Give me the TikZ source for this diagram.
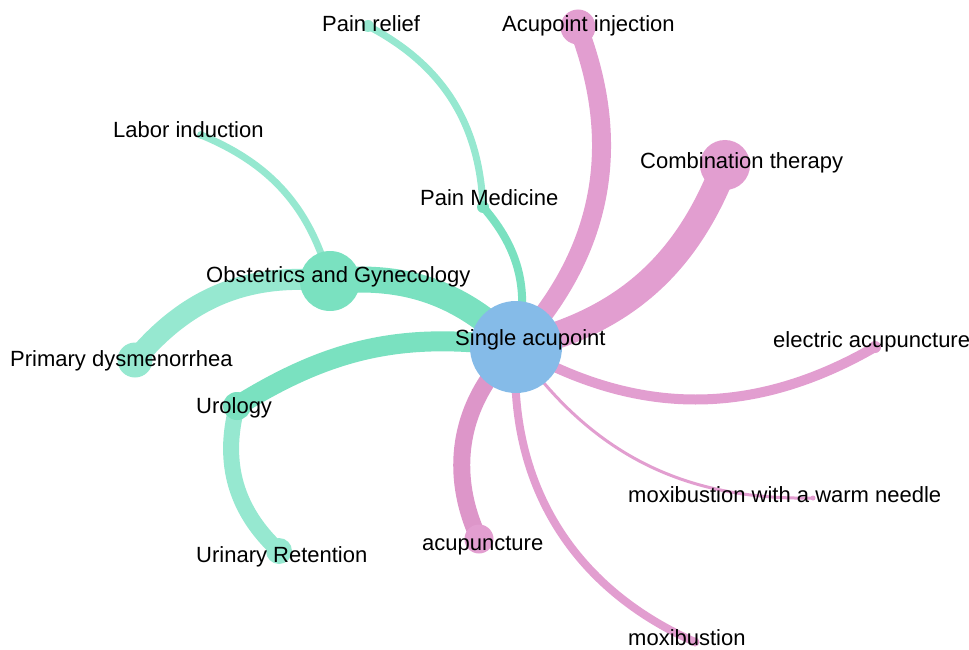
\documentclass[tikz,border=0pt]{standalone}
\usepackage{fontspec}
\setmainfont{Liberation Sans}
\usetikzlibrary{backgrounds}
\definecolor{hub}{HTML}{85BBE8}
\definecolor{tealA}{HTML}{7AE1C0}
\definecolor{tealB}{HTML}{96E8D0}
\definecolor{pinkA}{HTML}{E29ED0}
\definecolor{pinkB}{HTML}{DD96C9}

\begin{document}
\begin{tikzpicture}[x=1pt,y=-1pt,
  vertex/.style={circle,inner sep=0pt,minimum size=#1,draw=none},
  lbl/.style={anchor=base west,inner sep=0pt,font=\fontsize{22}{26}\selectfont,text=black},
  link/.style={draw=#1,line cap=butt}]
\useasboundingbox (0,0) rectangle (969,650);

% nodes
\node[vertex=92pt,fill=hub]   (sa)  at (516,347) {};
\node[vertex=60pt,fill=tealA] (obs) at (330,281) {};
\node[vertex=35pt,fill=tealB] (pd)  at (135,360) {};
\node[vertex=28pt,fill=tealA] (uro) at (237,406) {};
\node[vertex=26pt,fill=tealB] (ur)  at (279,551) {};
\node[vertex=8pt,fill=tealB]  (li)  at (201,135) {};
\node[vertex=12pt,fill=tealB] (pr)  at (368,26)  {};
\node[vertex=12pt,fill=tealA] (pm)  at (483,207) {};
\node[vertex=35pt,fill=pinkA] (ai)  at (578,27)  {};
\node[vertex=50pt,fill=pinkA] (ct)  at (725,165) {};
\node[vertex=12pt,fill=pinkA] (ea)  at (875,347) {};
\node[vertex=5pt,fill=pinkA]  (mw)  at (813,498) {};
\node[vertex=9pt,fill=pinkA]  (mx)  at (695,642) {};
\node[vertex=29pt,fill=pinkA] (ac)  at (479,539) {};

% links, drawn underneath the nodes
\begin{scope}[on background layer]
\draw[link=tealA,line width=26pt] (sa.center) to[bend right=25] (obs.center);
\draw[link=tealB,line width=21pt] (obs.center) to[bend right=28] (pd.center);
\draw[link=tealB,line width=7pt]  (obs.center) to[bend right=26] (li.center);
\draw[link=tealA,line width=20pt] (sa.center) to[bend right=20] (uro.center);
\draw[link=tealB,line width=16pt] (uro.center) to[bend right=31] (ur.center);
\draw[link=tealA,line width=8pt]  (sa.center) to[bend right=28] (pm.center);
\draw[link=tealB,line width=7pt]  (pm.center) to[bend right=30] (pr.center);
\draw[link=pinkA,line width=19pt] (sa.center) to[bend right=32] (ai.center);
\draw[link=pinkA,line width=27pt] (sa.center) to[bend right=28] (ct.center);
\draw[link=pinkA,line width=10pt] (sa.center) to[bend right=30] (ea.center);
\draw[link=pinkA,line width=3pt]  (sa.center) to[bend right=28] (mw.center);
\draw[link=pinkA,line width=8pt]  (sa.center) to[bend right=35] (mx.center);
\draw[link=pinkB,line width=17pt] (sa.center) to[bend right=36] (ac.center);
\end{scope}

% labels
\node[lbl] (sa-l)  at (455,345) {Single acupoint};
\node[lbl] (obs-l) at (206,282) {Obstetrics and Gynecology};
\node[lbl] (pd-l)  at (10,366)  {Primary dysmenorrhea};
\node[lbl] (uro-l) at (196,413) {Urology};
\node[lbl] (ur-l)  at (196,562) {Urinary Retention};
\node[lbl] (li-l)  at (113,138) {Labor induction};
\node[lbl] (pr-l)  at (322,32)  {Pain relief};
\node[lbl] (pm-l)  at (420,205) {Pain Medicine};
\node[lbl] (ai-l)  at (502,32)  {Acupoint injection};
\node[lbl] (ct-l)  at (640,168) {Combination therapy};
\node[lbl] (ea-l)  at (773,347) {electric acupuncture};
\node[lbl] (mw-l)  at (628,502) {moxibustion with a warm needle};
\node[lbl] (mx-l)  at (628,645) {moxibustion};
\node[lbl] (ac-l)  at (422,550) {acupuncture};
\end{tikzpicture}
\end{document}
